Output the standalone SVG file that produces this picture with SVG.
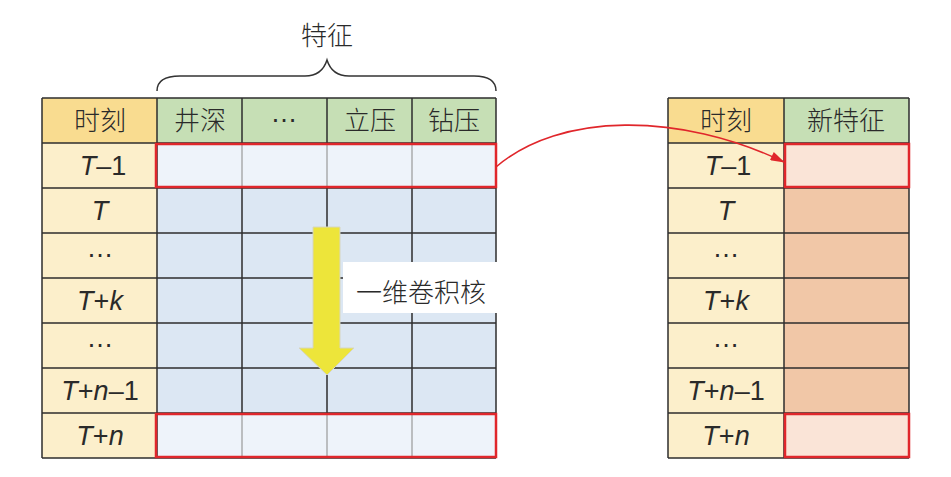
<svg xmlns="http://www.w3.org/2000/svg" width="951" height="477" viewBox="0 0 951 477">
<defs>
<style>
.lat{font-family:"Liberation Sans",Arial,sans-serif;font-size:27px;fill:#2a2a2a;text-anchor:middle}
.cjk{font-family:"Noto Sans CJK SC",sans-serif;font-size:26px;font-weight:300;fill:#2a2a2a;text-anchor:middle}
.it{font-style:italic}
.grid{stroke:#2e2e2e;stroke-width:1.5;fill:none}
.thin{stroke:#9a9a9a;stroke-width:1.2;fill:none}
.hl{fill:none;stroke:#e0262b;stroke-width:2.5}
.hdrT{fill:#f9dc90}
.lbl{fill:#fcefcb}
.hdrF{fill:#c6dfb5}
.cell{fill:#dce7f3}
.cellL{fill:#eef3fa}
.new{fill:#f1c7a7}
.newL{fill:#fae4d7}
</style>
<marker id="ah" viewBox="0 0 16 10" refX="15" refY="5" markerWidth="15" markerHeight="9" orient="auto" markerUnits="userSpaceOnUse">
<path d="M0,0 L16,5 L0,10 z" fill="#e0262b"/>
</marker>
</defs>
<rect width="951" height="477" fill="#ffffff"/>

<g id="feature-brace">
<text class="cjk" x="327" y="45">特征</text>
<path d="M157 91 Q157 76 180 76 L305 76 Q322 76 327 60 Q332 76 349 76 L474 76 Q496 76 496 91" fill="none" stroke="#333" stroke-width="1.5"/>
</g>

<g id="left-table">
<rect class="hdrT" x="42" y="98" width="115" height="45"/>
<rect class="lbl" x="42" y="143" width="115" height="315"/>
<rect class="hdrF" x="157" y="98" width="339" height="45"/>
<rect class="cellL" x="157" y="143" width="339" height="45"/>
<rect class="cell" x="157" y="188" width="339" height="225"/>
<rect class="cellL" x="157" y="413" width="339" height="45"/>
<path class="grid" d="M42 98 H496 M42 143 H496 M42 188 H496 M42 233 H496 M42 278 H496 M42 323 H496 M42 368 H496 M42 413 H496 M42 458 H496 M42 98 V458 M157 98 V458 M496 98 V458 M242 98 V143 M327 98 V143 M412 98 V143 M242 188 V413 M327 188 V413 M412 188 V413"/>
<path class="thin" d="M242 144 V187 M327 144 V187 M412 144 V187 M242 414 V457 M327 414 V457 M412 414 V457"/>
<text class="cjk" x="100" y="130">时刻</text>
<text class="cjk" x="200" y="130">井深</text>
<text class="lat" x="284" y="122">…</text>
<text class="cjk" x="370" y="130">立压</text>
<text class="cjk" x="454" y="130">钻压</text>
<text class="lat" x="103" y="175"><tspan class="it">T</tspan>–1</text>
<text class="lat" x="100" y="220"><tspan class="it">T</tspan></text>
<text class="lat" x="100" y="257">…</text>
<text class="lat" x="100" y="310"><tspan class="it">T</tspan>+<tspan class="it">k</tspan></text>
<text class="lat" x="100" y="347">…</text>
<text class="lat" x="100" y="400"><tspan class="it">T</tspan>+<tspan class="it">n</tspan>–1</text>
<text class="lat" x="100" y="445"><tspan class="it">T</tspan>+<tspan class="it">n</tspan></text>
<rect class="hl" x="156" y="144" width="340" height="43"/>
<rect class="hl" x="156" y="414" width="340" height="43"/>
</g>

<g id="kernel">
<path d="M313 227 H340 V348 H354 L327 375 L299 348 H313 Z" fill="#ede53a" stroke="#d6d6c0" stroke-width="1"/>
<rect x="343" y="262" width="154" height="51" fill="#ffffff"/>
<text class="cjk" x="421" y="302">一维卷积核</text>
</g>

<g id="right-table">
<rect class="hdrT" x="668" y="98" width="116" height="45"/>
<rect class="lbl" x="668" y="143" width="116" height="315"/>
<rect class="hdrF" x="784" y="98" width="125" height="45"/>
<rect class="newL" x="784" y="143" width="125" height="45"/>
<rect class="new" x="784" y="188" width="125" height="225"/>
<rect class="newL" x="784" y="413" width="125" height="45"/>
<path class="grid" d="M668 98 H909 M668 143 H909 M668 188 H909 M668 233 H909 M668 278 H909 M668 323 H909 M668 368 H909 M668 413 H909 M668 458 H909 M668 98 V458 M784 98 V458 M909 98 V458"/>
<text class="cjk" x="726" y="130">时刻</text>
<text class="cjk" x="846" y="130">新特征</text>
<text class="lat" x="728" y="175"><tspan class="it">T</tspan>–1</text>
<text class="lat" x="726" y="220"><tspan class="it">T</tspan></text>
<text class="lat" x="726" y="257">…</text>
<text class="lat" x="726" y="310"><tspan class="it">T</tspan>+<tspan class="it">k</tspan></text>
<text class="lat" x="726" y="347">…</text>
<text class="lat" x="726" y="400"><tspan class="it">T</tspan>+<tspan class="it">n</tspan>–1</text>
<text class="lat" x="726" y="445"><tspan class="it">T</tspan>+<tspan class="it">n</tspan></text>
<rect class="hl" x="785" y="144" width="124" height="43"/>
<rect class="hl" x="785" y="414" width="124" height="43"/>
</g>

<g id="connectors">
<path d="M496 167 C560 112 680 112 784 162" fill="none" stroke="#e0262b" stroke-width="1.6" marker-end="url(#ah)"/>
</g>
</svg>
